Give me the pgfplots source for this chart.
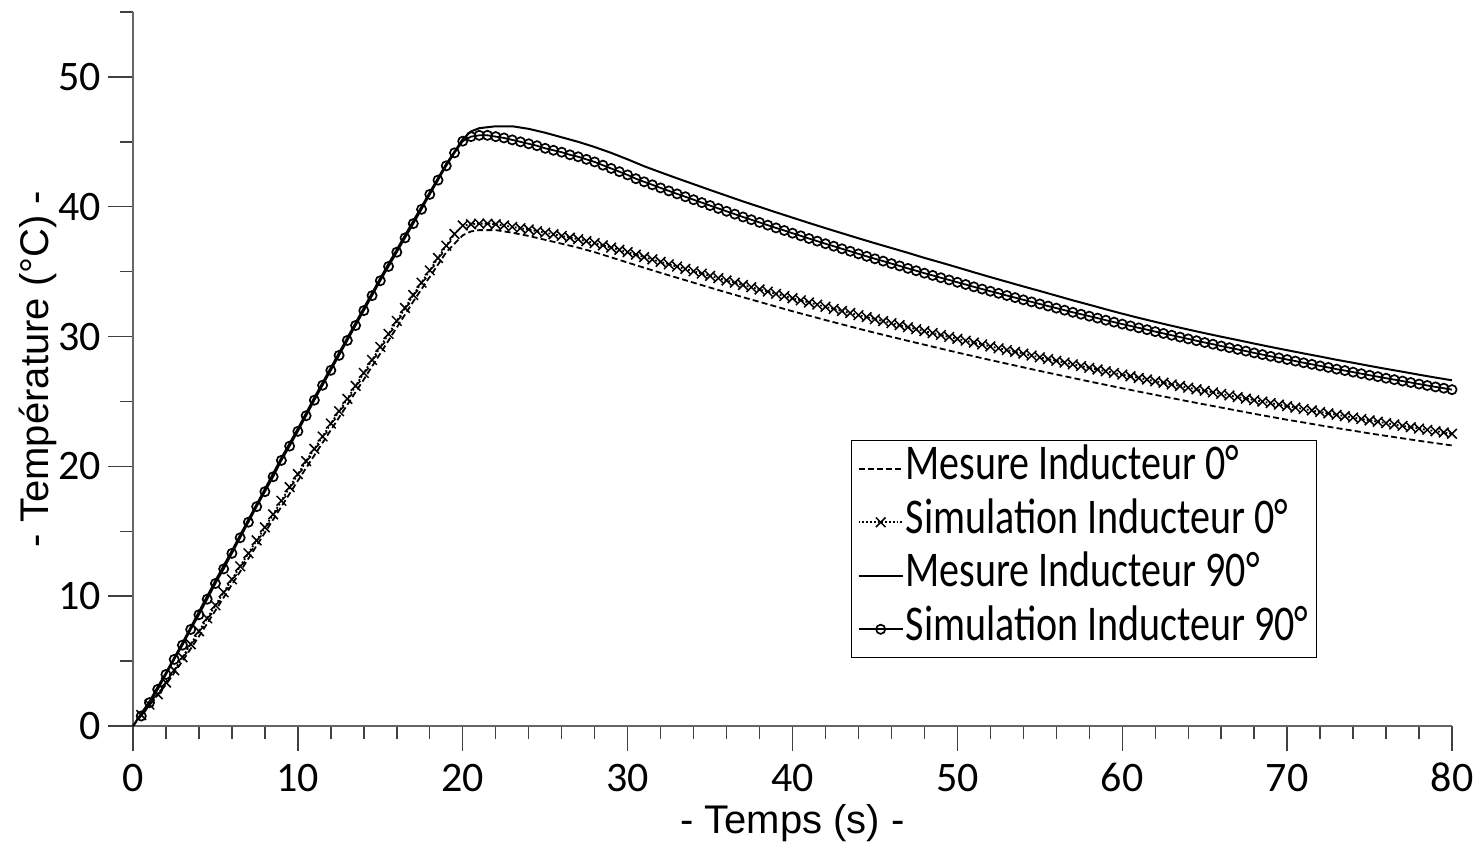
\documentclass[border=0pt]{standalone}
\usepackage{fontspec}
\setmainfont{Carlito}
\newfontfamily\arialfont{Liberation Sans}
\newfontfamily\legendfont[FakeStretch=0.8]{Carlito}
\usepackage{pgfplots}
\pgfplotsset{compat=1.18}
\usepackage{pgfplotstable}

\pgfplotstableread{
t T
0 0
1 1.6
2 3.2
3 5.0
4 6.9
5 8.9
6 10.9
7 12.9
8 14.9
9 16.9
10 18.9
11 20.85
12 22.8
13 24.75
14 26.7
15 28.7
16 30.7
17 32.7
18 34.6
19 36.5
20 37.8
20.5 38.1
21 38.2
22 38.2
23 38.0
24 37.75
25 37.45
26 37.15
27 36.85
28 36.5
29 36.1
30 35.7
31 35.30
32 34.91
33 34.53
34 34.15
35 33.77
36 33.40
37 33.03
38 32.67
39 32.31
40 31.95
41 31.61
42 31.27
43 30.94
44 30.61
45 30.29
46 29.98
47 29.67
48 29.37
49 29.07
50 28.77
51 28.48
52 28.19
53 27.91
54 27.63
55 27.35
56 27.08
57 26.81
58 26.54
59 26.28
60 26.02
61 25.76
62 25.51
63 25.26
64 25.01
65 24.77
66 24.53
67 24.29
68 24.05
69 23.82
70 23.59
71 23.38
72 23.16
73 22.95
74 22.75
75 22.54
76 22.35
77 22.16
78 21.97
79 21.79
80 21.61
}\mesurezero

\pgfplotstableread{
t T
0.5 0.85
1.0 1.65
1.5 2.45
2.0 3.35
2.5 4.30
3.0 5.30
3.5 6.30
4.0 7.30
4.5 8.30
5.0 9.30
5.5 10.30
6.0 11.30
6.5 12.30
7.0 13.30
7.5 14.30
8.0 15.30
8.5 16.30
9.0 17.35
9.5 18.40
10.0 19.40
10.5 20.40
11.0 21.35
11.5 22.30
12.0 23.30
12.5 24.25
13.0 25.20
13.5 26.20
14.0 27.20
14.5 28.20
15.0 29.20
15.5 30.20
16.0 31.20
16.5 32.20
17.0 33.20
17.5 34.15
18.0 35.10
18.5 36.05
19.0 37.00
19.5 37.90
20.0 38.55
20.5 38.65
21.0 38.70
21.5 38.70
22.0 38.65
22.5 38.55
23.0 38.45
23.5 38.35
24.0 38.25
24.5 38.12
25.0 38.00
25.5 37.88
26.0 37.75
26.5 37.62
27.0 37.50
27.5 37.35
28.0 37.20
28.5 37.03
29.0 36.85
29.5 36.68
30.0 36.50
30.5 36.31
31.0 36.12
31.5 35.94
32.0 35.75
32.5 35.57
33.0 35.39
33.5 35.21
34.0 35.03
34.5 34.85
35.0 34.67
35.5 34.50
36.0 34.32
36.5 34.15
37.0 33.97
37.5 33.80
38.0 33.63
38.5 33.46
39.0 33.29
39.5 33.12
40.0 32.95
40.5 32.79
41.0 32.62
41.5 32.46
42.0 32.29
42.5 32.13
43.0 31.97
43.5 31.81
44.0 31.65
44.5 31.50
45.0 31.34
45.5 31.19
46.0 31.03
46.5 30.88
47.0 30.72
47.5 30.57
48.0 30.42
48.5 30.27
49.0 30.12
49.5 29.97
50.0 29.82
50.5 29.68
51.0 29.53
51.5 29.39
52.0 29.24
52.5 29.10
53.0 28.96
53.5 28.82
54.0 28.68
54.5 28.54
55.0 28.40
55.5 28.27
56.0 28.13
56.5 28.00
57.0 27.86
57.5 27.73
58.0 27.59
58.5 27.46
59.0 27.33
59.5 27.20
60.0 27.07
60.5 26.94
61.0 26.81
61.5 26.69
62.0 26.56
62.5 26.44
63.0 26.31
63.5 26.19
64.0 26.06
64.5 25.94
65.0 25.82
65.5 25.70
66.0 25.58
66.5 25.46
67.0 25.34
67.5 25.22
68.0 25.10
68.5 24.99
69.0 24.87
69.5 24.76
70.0 24.64
70.5 24.53
71.0 24.42
71.5 24.31
72.0 24.19
72.5 24.08
73.0 23.97
73.5 23.87
74.0 23.76
74.5 23.65
75.0 23.54
75.5 23.44
76.0 23.33
76.5 23.23
77.0 23.12
77.5 23.02
78.0 22.91
78.5 22.81
79.0 22.71
79.5 22.61
80.0 22.51
}\simzero

\pgfplotstableread{
t T
0 0
1 1.9
2 4.1
3 6.4
4 8.8
5 11.2
6 13.5
7 15.9
8 18.25
9 20.65
10 22.9
11 25.3
12 27.6
13 29.9
14 32.2
15 34.5
16 36.7
17 38.9
18 41.1
19 43.3
20 45.2
20.5 45.8
21 46.05
22 46.2
23 46.2
24 46.0
25 45.7
26 45.35
27 45.0
28 44.6
29 44.15
30 43.65
31 43.12
32 42.65
33 42.19
34 41.74
35 41.29
36 40.85
37 40.41
38 39.99
39 39.57
40 39.16
41 38.75
42 38.35
43 37.96
44 37.57
45 37.19
46 36.82
47 36.45
48 36.06
49 35.70
50 35.33
51 34.95
52 34.58
53 34.22
54 33.86
55 33.51
56 33.15
57 32.79
58 32.45
59 32.10
60 31.76
61 31.44
62 31.13
63 30.83
64 30.54
65 30.26
66 29.99
67 29.73
68 29.46
69 29.20
70 28.95
71 28.70
72 28.46
73 28.21
74 27.98
75 27.74
76 27.51
77 27.29
78 27.06
79 26.84
80 26.63
}\mesurenonante

\pgfplotstableread{
t T
0.5 0.77
1.0 1.80
1.5 2.82
2.0 3.97
2.5 5.13
3.0 6.23
3.5 7.44
4.0 8.57
4.5 9.77
5.0 10.98
5.5 12.10
6.0 13.30
6.5 14.50
7.0 15.70
7.5 16.90
8.0 18.05
8.5 19.20
9.0 20.46
9.5 21.56
10.0 22.70
10.5 23.90
11.0 25.10
11.5 26.25
12.0 27.40
12.5 28.55
13.0 29.70
13.5 30.85
14.0 32.00
14.5 33.15
15.0 34.30
15.5 35.40
16.0 36.50
16.5 37.60
17.0 38.70
17.5 39.80
18.0 40.95
18.5 42.05
19.0 43.15
19.5 44.15
20.0 45.05
20.5 45.40
21.0 45.50
21.5 45.50
22.0 45.40
22.5 45.30
23.0 45.15
23.5 45.00
24.0 44.85
24.5 44.70
25.0 44.50
25.5 44.35
26.0 44.20
26.5 44.00
27.0 43.85
27.5 43.65
28.0 43.45
28.5 43.20
29.0 42.95
29.5 42.70
30.0 42.45
30.5 42.16
31.0 41.92
31.5 41.69
32.0 41.45
32.5 41.22
33.0 40.99
33.5 40.77
34.0 40.54
34.5 40.32
35.0 40.09
35.5 39.87
36.0 39.65
36.5 39.43
37.0 39.21
37.5 39.00
38.0 38.79
38.5 38.58
39.0 38.37
39.5 38.17
40.0 37.96
40.5 37.76
41.0 37.55
41.5 37.35
42.0 37.15
42.5 36.96
43.0 36.76
43.5 36.57
44.0 36.37
44.5 36.18
45.0 35.99
45.5 35.81
46.0 35.62
46.5 35.44
47.0 35.25
47.5 35.07
48.0 34.88
48.5 34.71
49.0 34.53
49.5 34.36
50.0 34.18
50.5 34.01
51.0 33.83
51.5 33.66
52.0 33.49
52.5 33.33
53.0 33.16
53.5 33.00
54.0 32.83
54.5 32.67
55.0 32.51
55.5 32.35
56.0 32.19
56.5 32.03
57.0 31.87
57.5 31.72
58.0 31.57
58.5 31.42
59.0 31.26
59.5 31.11
60.0 30.96
60.5 30.82
61.0 30.67
61.5 30.53
62.0 30.38
62.5 30.24
63.0 30.10
63.5 29.96
64.0 29.82
64.5 29.68
65.0 29.54
65.5 29.41
66.0 29.27
66.5 29.14
67.0 29.01
67.5 28.88
68.0 28.74
68.5 28.61
69.0 28.48
69.5 28.36
70.0 28.23
70.5 28.11
71.0 27.98
71.5 27.86
72.0 27.74
72.5 27.62
73.0 27.49
73.5 27.38
74.0 27.26
74.5 27.14
75.0 27.02
75.5 26.91
76.0 26.79
76.5 26.68
77.0 26.57
77.5 26.46
78.0 26.34
78.5 26.23
79.0 26.12
79.5 26.02
80.0 25.91
}\simnonante

\begin{document}
\begin{tikzpicture}
\path[use as bounding box] (-66.5pt,-58pt) rectangle (674.5pt,363pt);
\begin{axis}[
  at={(0pt,0pt)}, anchor=south west,
  scale only axis, width=659.5pt, height=357pt,
  xmin=0, xmax=80, ymin=0, ymax=55,
  axis x line=bottom, axis y line=left,
  axis line style={-, black!60, line width=0.8pt},
  xtick={0,10,...,80}, ytick={0,10,...,50},
  minor xtick={2,4,...,78}, minor ytick={5,15,...,55},
  tick align=outside,
  major tick length=12.5pt, minor tick length=6.5pt,
  tick style={black!75, line width=0.7pt},
  /pgf/number format/assume math mode=true,
  ticklabel style={font=\fontsize{21}{21}\selectfont},
  xticklabel style={anchor=north, inner ysep=0pt, text height=14pt, text depth=0pt, yshift=-6pt},
  xlabel={- Temps (s) -},
  ylabel={- Température (°C) -},
  label style={font=\arialfont\fontsize{20}{22}\selectfont},
  xlabel style={at={(axis description cs:0.5,-0.136)}, anchor=center, inner sep=0pt},
  ylabel style={at={(axis description cs:-0.072,0.5)}, anchor=center, rotate=0},
  clip=false,
  legend image code/.code={\draw[mark repeat=2,mark phase=2,#1] plot coordinates {(0pt,0pt) (11pt,0pt) (22pt,0pt)};},
  legend cell align=left,
  legend style={at={(axis description cs:0.5444,0.4006)}, anchor=north west,
    draw=black, line width=0.6pt, fill=white,
    font=\legendfont\fontsize{25}{25}\selectfont,
    inner xsep=3pt, inner ysep=2.6pt, row sep=3.75pt, column sep=0pt,
    nodes={inner xsep=1pt, inner ysep=0pt, text height=17pt, text depth=6pt}},
]
\addplot[black, line width=0.9pt, dash pattern=on 3pt off 1.6pt] table[x=t,y=T] {\mesurezero};
\addlegendentry{Mesure Inducteur 0°}
\addplot[black, line width=0.9pt, densely dotted, mark=x, mark size=3.4pt, mark options={solid, line width=0.75pt}] table[x=t,y=T] {\simzero};
\addlegendentry{Simulation Inducteur 0°}
\addplot[black, line width=1pt] table[x=t,y=T] {\mesurenonante};
\addlegendentry{Mesure Inducteur 90°}
\addplot[black, line width=0.9pt, mark=o, mark size=2.3pt, mark options={solid, line width=0.85pt}] table[x=t,y=T] {\simnonante};
\addlegendentry{Simulation Inducteur 90°}
\end{axis}
\end{tikzpicture}
\end{document}
